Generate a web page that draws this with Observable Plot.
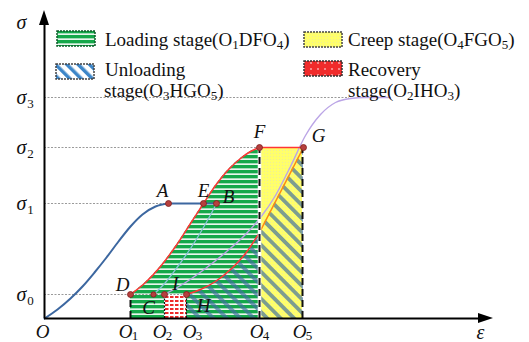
<!DOCTYPE html>
<html><head><meta charset="utf-8">
<script src="https://cdn.jsdelivr.net/npm/d3@7"></script>
<script src="https://cdn.jsdelivr.net/npm/@observablehq/plot@0.6"></script>
<style>
html,body{margin:0;padding:0;background:#fff;}
#chart{position:relative;width:529px;height:342px;overflow:hidden;}
</style></head><body><div id="chart"></div>
<script>
// ---------- data (strain ε and stress σ, arbitrary schematic units) ----------
const strainTickValues = [0, 8.6, 12.0, 14.2, 21.5, 25.8];      // O, O1..O5
const strainTickSubs   = ["", "1", "2", "3", "4", "5"];
const stressTickValues = [2.4, 11.5, 17.1, 22.1];                // σ0..σ3
const stressTickSubs   = ["0", "1", "2", "3"];

const pointNames = ["A", "E", "B", "D", "C", "I", "H", "F", "G"];
const pointX     = [12.4, 15.9, 17.2, 8.6, 10.9, 12.0, 14.2, 21.5, 25.9];
const pointY     = [11.5, 11.5, 11.5, 2.4, 2.4, 2.4, 2.4, 17.1, 17.1];

// initial loading curve O -> A
const riseX = [0, 1.3, 2.6, 3.8, 5.0, 6.2, 7.4, 8.6, 9.8, 11.1, 12.4];
const riseY = [0, 0.9, 2.0, 3.2, 4.6, 6.1, 7.7, 9.2, 10.4, 11.2, 11.5];
// loading curve D -> E -> F
const loadX = [8.6, 10.1, 11.6, 13.1, 14.6, 15.9, 17.1, 18.4, 19.6, 20.6, 21.5];
const loadY = [2.4, 3.6, 5.2, 7.2, 9.5, 11.5, 13.3, 14.9, 16.0, 16.7, 17.1];
// unloading curve H -> (O4) -> G
const unloadX = [14.2, 15.6, 17.1, 18.6, 20.1, 21.5];
const unloadY = [2.4, 2.9, 3.7, 4.9, 6.5, 8.6];
const unloadEndX = [21.5, 25.9];
const unloadEndY = [8.6, 17.1];
// light curve C -> B
const cbX = [10.9, 12.1, 13.4, 14.6, 15.6, 16.4, 17.2];
const cbY = [2.4, 3.6, 5.3, 7.0, 8.6, 10.0, 11.5];
// light curve I -> σ3
const isX = [12.0, 14.1, 16.1, 18.1, 20.1, 21.6, 23.1, 24.6, 26.1, 27.6, 29.1, 30.6, 32.1, 34.6];
const isY = [2.4, 3.6, 5.0, 6.6, 8.4, 10.1, 12.3, 15.2, 18.3, 20.4, 21.6, 22.0, 22.1, 22.1];
// where each σ guide line ends
const guideEnds = [14.2, 12.4, 21.5, 30.5];

// ---------- layout ----------
const xMax = 48.5, yMax = 31.8;
const yAxisTop = 30.8, xAxisEnd = 44.9, arrowLen = 1.5, arrowHalf = 0.5;
const tickNudge = [-2, -5, -5, 3, -3, -3];
const labelDx = [-6, 0, 12, -8, -5, 11, 17, 0, 15];
const labelDy = [-13, -13, -7, -10, 13, -11, 11, -16, -12];
const serif = "'Liberation Serif', 'Times New Roman', serif";

const idx = a => a.map((_, i) => i);
const O1 = strainTickValues[1], O2 = strainTickValues[2], O3 = strainTickValues[3],
      O4 = strainTickValues[4], O5 = strainTickValues[5];
const s0 = stressTickValues[0], s2 = stressTickValues[2];

const marks = [
  // fills
  Plot.areaY(idx(loadX), {x: i => loadX[i], y1: 0, y2: i => loadY[i], fill: "url(#pGreen)", curve: "monotone-x"}),
  Plot.rect([0], {x1: O4, x2: O5, y1: 0, y2: s2, fill: "url(#pYellow)"}),
  Plot.areaY(idx(unloadX), {x: i => unloadX[i], y1: 0, y2: i => unloadY[i], fill: "url(#pBlue)", curve: "monotone-x"}),
  Plot.areaY(idx(unloadEndX), {x: i => unloadEndX[i], y1: 0, y2: i => unloadEndY[i], fill: "url(#pBlue)"}),
  Plot.rect([0], {x1: O2, x2: O3, y1: 0, y2: s0, fill: "url(#pRed)"}),
  Plot.ruleX([O2, O3], {y1: 0, y2: s0, stroke: "#111", strokeWidth: 1.2, strokeDasharray: "2,1.5"}),
  // guides
  Plot.ruleY(idx(stressTickValues), {y: i => stressTickValues[i], x1: 0, x2: i => guideEnds[i],
    stroke: "#9a9a9a", strokeWidth: 1, strokeDasharray: "2,1.5"}),
  // light curves
  Plot.line(idx(cbX), {x: i => cbX[i], y: i => cbY[i], stroke: "#8cc3d8", strokeWidth: 1.3, curve: "monotone-x"}),
  Plot.line(idx(isX), {x: i => isX[i], y: i => isY[i], stroke: "#bba5e6", strokeWidth: 1.4, curve: "monotone-x"}),
  // blue initial curve
  Plot.line(idx(riseX), {x: i => riseX[i], y: i => riseY[i], stroke: "#3c67a0", strokeWidth: 2, curve: "monotone-x"}),
  Plot.line([0, 2], {x: i => pointX[i], y: i => pointY[i], stroke: "#3c67a0", strokeWidth: 2}),
  // red / orange curves
  Plot.line(idx(loadX), {x: i => loadX[i], y: i => loadY[i], stroke: "#ff3535", strokeWidth: 1.5, curve: "monotone-x"}),
  Plot.line([7, 8], {x: i => pointX[i], y: i => pointY[i], stroke: "#ff3535", strokeWidth: 1.6}),
  Plot.line(idx(unloadX), {x: i => unloadX[i], y: i => unloadY[i], stroke: "#ff3535", strokeWidth: 1.5, curve: "monotone-x"}),
  Plot.line(idx(unloadEndX), {x: i => unloadEndX[i], y: i => unloadEndY[i], stroke: "#ff8a10", strokeWidth: 1.6}),
  // dashed verticals
  Plot.ruleX([O4], {y1: 0, y2: s2, stroke: "#fff", strokeWidth: 3.5}),
  Plot.ruleX([O1], {y1: 0, y2: s0, stroke: "#111", strokeWidth: 2, strokeDasharray: "7,4"}),
  Plot.ruleX([O4, O5], {y1: 0, y2: s2, stroke: "#111", strokeWidth: 2, strokeDasharray: "7,4"}),
  // points
  Plot.dot(idx(pointNames), {x: i => pointX[i], y: i => pointY[i], r: i => pointNames[i] === "C" ? 2.8 : 3.6,
    fill: "#b6403d", stroke: "#7d1d1d", strokeWidth: 0.8}),
  // axes
  Plot.ruleX([0], {y1: 0, y2: yAxisTop - arrowLen + 0.2, stroke: "#000", strokeWidth: 2}),
  Plot.ruleY([0], {x1: 0, x2: xAxisEnd - arrowLen + 0.2, stroke: "#000", strokeWidth: 2}),
  Plot.areaX([{y: yAxisTop - arrowLen, a: -arrowHalf, b: arrowHalf}, {y: yAxisTop, a: 0, b: 0}],
    {y: "y", x1: "a", x2: "b", fill: "#000"}),
  Plot.areaY([{x: xAxisEnd - arrowLen, a: -arrowHalf, b: arrowHalf}, {x: xAxisEnd, a: 0, b: 0}],
    {x: "x", y1: "a", y2: "b", fill: "#000"}),
  // axis titles
  Plot.text(["σ"], {x: 0, y: 29.6, text: d => d, dx: -23, fontSize: 20, fontStyle: "italic", fontFamily: serif, fill: "#111"}),
  Plot.text(["ε"], {x: 43.6, y: 0, text: d => d, dy: 14, fontSize: 20, fontStyle: "italic", fontFamily: serif, fill: "#111"}),
  // σ tick labels
  Plot.text(idx(stressTickValues), {x: 0, y: i => stressTickValues[i], text: () => "σ", dx: -23,
    fontSize: 20, fontStyle: "italic", fontFamily: serif, fill: "#111"}),
  Plot.text(idx(stressTickValues), {x: 0, y: i => stressTickValues[i], text: i => stressTickSubs[i], dx: -14, dy: 6,
    fontSize: 13, fontFamily: serif, fill: "#111"}),
];
// O tick labels (individual nudges)
strainTickValues.forEach((v, i) => {
  marks.push(Plot.text([i], {x: v, y: 0, text: () => "O", dx: tickNudge[i], dy: 13,
    fontSize: 19, fontStyle: "italic", fontFamily: serif, fill: "#111"}));
  if (strainTickSubs[i]) marks.push(Plot.text([i], {x: v, y: 0, text: () => strainTickSubs[i], dx: tickNudge[i] + 9.5, dy: 17,
    fontSize: 13, fontFamily: serif, fill: "#111"}));
});
// point labels
pointNames.forEach((n, i) => {
  marks.push(Plot.text([i], {x: pointX[i], y: pointY[i], text: () => n, dx: labelDx[i], dy: labelDy[i],
    fontSize: 19, fontStyle: "italic", fontFamily: serif, fill: "#111"}));
});

const svg = Plot.plot({
  width: 529, height: 342,
  marginLeft: 44, marginRight: 0, marginTop: 0, marginBottom: 24,
  x: {domain: [0, xMax], axis: null},
  y: {domain: [0, yMax], axis: null},
  style: {fontFamily: serif, background: "#fff", overflow: "visible"},
  marks
});

// ---------- patterns ----------
const root = d3.select(svg);
const defs = root.insert("defs", ":first-child");
let p = defs.append("pattern").attr("id", "pGreen").attr("patternUnits", "userSpaceOnUse").attr("width", 6).attr("height", 5);
p.append("rect").attr("width", 6).attr("height", 5).attr("fill", "#15a84a");
p.append("rect").attr("y", 3.4).attr("width", 6).attr("height", 1.5).attr("fill", "#fff");
p = defs.append("pattern").attr("id", "pBlue").attr("patternUnits", "userSpaceOnUse").attr("width", 9.5).attr("height", 9.5).attr("patternTransform", "rotate(-45)");
p.append("rect").attr("width", 3.8).attr("height", 9.5).attr("fill", "#41709f").attr("fill-opacity", 0.68);
p = defs.append("pattern").attr("id", "pYellow").attr("patternUnits", "userSpaceOnUse").attr("width", 3).attr("height", 3);
p.append("rect").attr("width", 3).attr("height", 3).attr("fill", "#ffff6a");
p.append("rect").attr("width", 1).attr("height", 1).attr("fill", "#eded9a");
p = defs.append("pattern").attr("id", "pRed").attr("patternUnits", "userSpaceOnUse").attr("width", 5).attr("height", 4);
p.append("rect").attr("width", 5).attr("height", 4).attr("fill", "#fff");
p.append("rect").attr("width", 3.5).attr("height", 2).attr("fill", "#ee2a2a");
p = defs.append("pattern").attr("id", "lgBlue").attr("patternUnits", "userSpaceOnUse").attr("width", 8).attr("height", 8).attr("patternTransform", "rotate(-45)");
p.append("rect").attr("width", 8).attr("height", 8).attr("fill", "#fff");
p.append("rect").attr("width", 3.5).attr("height", 8).attr("fill", "#3d86c8");
p = defs.append("pattern").attr("id", "lgRed").attr("patternUnits", "userSpaceOnUse").attr("width", 7).attr("height", 6);
p.append("rect").attr("width", 7).attr("height", 6).attr("fill", "#f02b2b");
p.append("circle").attr("cx", 3).attr("cy", 3).attr("r", 0.8).attr("fill", "#fff");

// ---------- legend ----------
const lg = root.append("g").attr("text-anchor", "start");
function richText(x, y, str, bg) {
  const t = lg.append("text").attr("x", x).attr("y", y).attr("text-anchor", "start")
    .attr("font-family", serif).attr("font-size", 19).attr("fill", "#111");
  let pendingUp = false;
  for (const part of str.split(/(_\d)/)) {
    if (!part) continue;
    if (part[0] === "_") {
      t.append("tspan").attr("font-size", 13).attr("dy", pendingUp ? 0 : 3).text(part.slice(1));
      pendingUp = true;
    } else {
      const s = t.append("tspan").text(part);
      if (pendingUp) { s.attr("dy", -3); pendingUp = false; }
    }
  }
  if (bg) {
    const bb = t.node().getBBox();
    lg.insert("rect", () => t.node()).attr("x", bb.x - 1).attr("y", bb.y + 2).attr("width", bb.width + 2).attr("height", bb.height - 3).attr("fill", "#fff");
  }
}
const swatches = [
  {x: 57, y: 31, fill: "url(#pGreen)", stroke: "#0e5a2a"},
  {x: 56, y: 64, fill: "url(#lgBlue)", stroke: "#444"},
  {x: 304, y: 32, fill: "url(#pYellow)", stroke: "#444"},
  {x: 304, y: 61, fill: "url(#lgRed)", stroke: "#333"},
];
swatches.forEach(s => lg.append("rect").attr("x", s.x).attr("y", s.y).attr("width", 38).attr("height", 15)
  .attr("fill", s.fill).attr("stroke", s.stroke).attr("stroke-width", 1.5).attr("stroke-dasharray", "2,1"));
richText(105, 46, "Loading stage(O_1DFO_4)", true);
richText(105, 76, "Unloading", true);
richText(104, 97, "stage(O_3HGO_5)", true);
richText(348, 46, "Creep stage(O_4FGO_5)", false);
richText(348, 76, "Recovery", false);
richText(348, 97, "stage(O_2IHO_3)", false);

document.getElementById("chart").appendChild(svg);
</script>
</body></html>
